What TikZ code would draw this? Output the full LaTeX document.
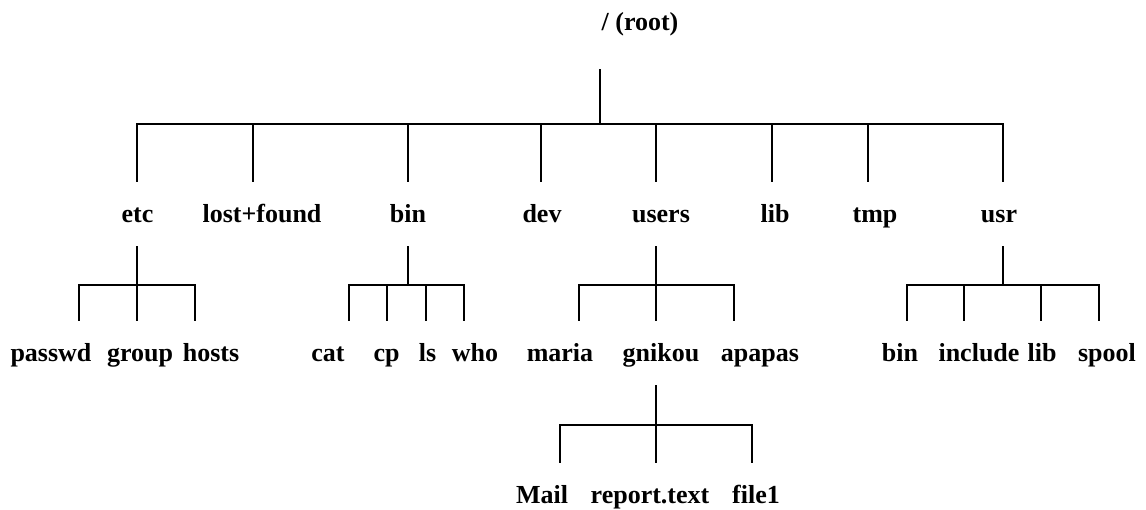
\documentclass[tikz,border=0pt]{standalone}
\usepackage{fontspec}
\setmainfont{Liberation Serif}
\usepackage{tikz}

\tikzset{
  dir/.style={font=\fontsize{26}{26}\selectfont\bfseries, anchor=base, inner xsep=0pt, inner ysep=22pt, text height=18pt, text depth=2pt},
  branch/.style={line width=2pt, line join=miter}
}

\begin{document}
\begin{tikzpicture}[x=1pt, y=-1pt]
    \useasboundingbox (0,0) rectangle (1146,509);

    % directory names
    \node[dir, inner ysep=37pt] (root) at (640,30) {/ (root)};

    \node[dir] (etc) at (137.5,222) {etc};
    \node[dir] (lost) at (262,222) {lost+found};
    \node[dir] (bin) at (408,222) {bin};
    \node[dir] (dev) at (542,222) {dev};
    \node[dir] (users) at (661,222) {users};
    \node[dir] (lib) at (775,222) {lib};
    \node[dir] (tmp) at (875,222) {tmp};
    \node[dir] (usr) at (999,222) {usr};

    \node[dir] (passwd) at (51,361) {passwd};
    \node[dir] (group) at (140,361) {group};
    \node[dir] (hosts) at (211,361) {hosts};
    \node[dir] (cat) at (328,361) {cat};
    \node[dir] (cp) at (386.5,361) {cp};
    \node[dir] (ls) at (427.5,361) {ls};
    \node[dir] (who) at (475,361) {who};
    \node[dir] (maria) at (560,361) {maria};
    \node[dir] (gnikou) at (661,361) {gnikou};
    \node[dir] (apapas) at (760,361) {apapas};
    \node[dir] (ubin) at (900,361) {bin};
    \node[dir] (include) at (979,361) {include};
    \node[dir] (ulib) at (1042,361) {lib};
    \node[dir] (spool) at (1107,361) {spool};

    \node[dir] (mail) at (542,503) {Mail};
    \node[dir] (report) at (650,503) {report.text};
    \node[dir] (file) at (756,503) {file1};

    % branch points
    \coordinate (j-root) at (600,124);
    \coordinate (t-etc) at (137,124);
    \coordinate (t-lost) at (253,124);
    \coordinate (t-bin) at (408,124);
    \coordinate (t-dev) at (541,124);
    \coordinate (t-users) at (656,124);
    \coordinate (t-lib) at (772,124);
    \coordinate (t-tmp) at (868,124);
    \coordinate (t-usr) at (1003,124);

    \coordinate (t-passwd) at (79,285);
    \coordinate (t-group) at (137,285);
    \coordinate (t-hosts) at (195,285);

    \coordinate (j-bin) at (408,285);
    \coordinate (t-cat) at (349,285);
    \coordinate (t-cp) at (387,285);
    \coordinate (t-ls) at (426,285);
    \coordinate (t-who) at (464,285);

    \coordinate (t-maria) at (579,285);
    \coordinate (t-gnikou) at (656,285);
    \coordinate (t-apapas) at (734,285);

    \coordinate (j-usr) at (1003,285);
    \coordinate (t-ubin) at (907,285);
    \coordinate (t-include) at (964,285);
    \coordinate (t-ulib) at (1041,285);
    \coordinate (t-spool) at (1099,285);

    \coordinate (t-mail) at (560,425);
    \coordinate (t-report) at (656,425);
    \coordinate (t-file) at (752,425);

    % / (root)
    \draw[branch] (root.south -| j-root) -- (j-root);
    \draw[branch] (t-etc |- etc.north) -- (t-etc) -- (t-usr) -- (t-usr |- usr.north);
    \foreach \d in {lost,bin,dev,users,lib,tmp}
        \draw[branch] (t-\d) -- (t-\d |- \d.north);

    % etc
    \draw[branch] (etc.south -| t-group) -- (t-group);
    \draw[branch] (t-passwd |- passwd.north) -- (t-passwd) -- (t-hosts) -- (t-hosts |- hosts.north);
    \draw[branch] (t-group) -- (t-group |- group.north);

    % bin
    \draw[branch] (bin.south -| j-bin) -- (j-bin);
    \draw[branch] (t-cat |- cat.north) -- (t-cat) -- (t-who) -- (t-who |- who.north);
    \foreach \d in {cp,ls}
        \draw[branch] (t-\d) -- (t-\d |- \d.north);

    % users
    \draw[branch] (users.south -| t-gnikou) -- (t-gnikou);
    \draw[branch] (t-maria |- maria.north) -- (t-maria) -- (t-apapas) -- (t-apapas |- apapas.north);
    \draw[branch] (t-gnikou) -- (t-gnikou |- gnikou.north);

    % usr
    \draw[branch] (usr.south -| j-usr) -- (j-usr);
    \draw[branch] (t-ubin |- ubin.north) -- (t-ubin) -- (t-spool) -- (t-spool |- spool.north);
    \foreach \d in {include,ulib}
        \draw[branch] (t-\d) -- (t-\d |- \d.north);

    % gnikou
    \draw[branch] (gnikou.south -| t-report) -- (t-report);
    \draw[branch] (t-mail |- mail.north) -- (t-mail) -- (t-file) -- (t-file |- file.north);
    \draw[branch] (t-report) -- (t-report |- report.north);
\end{tikzpicture}
\end{document}
